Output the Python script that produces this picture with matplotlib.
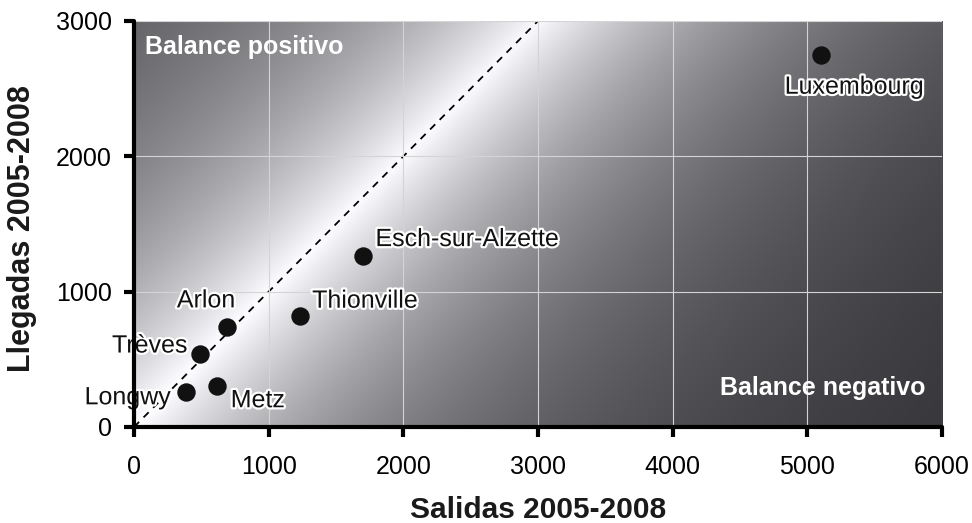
import numpy as np
import matplotlib
matplotlib.use("Agg")
import matplotlib.pyplot as plt
import matplotlib.patheffects as pe

plt.rcParams['font.family'] = ['Liberation Sans', 'DejaVu Sans']

# Data
cities = ["Luxembourg", "Esch-sur-Alzette", "Thionville", "Arlon", "Trèves", "Metz", "Longwy"]
salidas = [5100, 1700, 1230, 690, 490, 615, 385]
llegadas = [2750, 1265, 820, 740, 540, 300, 260]
xticks = [0, 1000, 2000, 3000, 4000, 5000, 6000]
yticks = [0, 1000, 2000, 3000]

# label placement (offset in points, horizontal alignment)
label_style = {
    "Luxembourg": ((24, -28), "center"),
    "Esch-sur-Alzette": ((9, 7), "left"),
    "Thionville": ((9, 6), "left"),
    "Arlon": ((6, 14), "right"),
    "Trèves": ((-9, 1), "right"),
    "Metz": ((10, -15), "left"),
    "Longwy": ((-11, -9), "right"),
}

fig = plt.figure(figsize=(9.72, 5.23), dpi=100)
ax = fig.add_axes([134/972, (523-427)/523, 808/972, 406/523])

# background gradient: white along the y = x diagonal, darker away from it
gx = np.linspace(0, 6000, 600)
gy = np.linspace(0, 3000, 300)
GX, GY = np.meshgrid(gx, gy)
d = np.abs(GX - GY) / np.sqrt(2)
v = 0.22 + 0.78 * np.exp(-d / 1450.0) - 0.04 * (GX / 6000.0)
v = np.clip(v, 0, 1)
rgb = np.dstack([v, v, np.clip(v + 0.015, 0, 1)])
ax.imshow(rgb, extent=[0, 6000, 0, 3000], origin="lower", aspect="auto",
          interpolation="bilinear", zorder=0)

ax.set_xlim(0, 6000)
ax.set_ylim(0, 3000)
ax.set_xticks(xticks)
ax.set_yticks(yticks)
ax.grid(True, color="#d4d4d4", linewidth=0.8, zorder=1)
ax.set_axisbelow(False)

# diagonal
ax.plot([0, 3000], [0, 3000], color="black", linestyle=(0, (4, 3.5)), linewidth=1.3, zorder=2)

ax.scatter(salidas, llegadas, s=150, color="#111111", zorder=4, clip_on=False)

for c, xv, yv in zip(cities, salidas, llegadas):
    off, ha = label_style[c]
    ax.annotate(c, (xv, yv), xytext=off, textcoords="offset points",
                ha=ha, va="baseline", fontsize=18, color="#111111", zorder=5,
                path_effects=[pe.withStroke(linewidth=3.2, foreground="white")])

ax.text(80, 2808, "Balance positivo", fontsize=18, fontweight="bold",
        color="white", ha="left", va="center", zorder=5)
ax.text(5875, 285, "Balance negativo", fontsize=18, fontweight="bold",
        color="white", ha="right", va="center", zorder=5)

for s in ["top", "right"]:
    ax.spines[s].set_visible(False)
for s in ["left", "bottom"]:
    ax.spines[s].set_linewidth(3)
    ax.spines[s].set_capstyle("round")
    ax.spines[s].set_zorder(6)

ax.tick_params(axis="both", direction="out", length=7, width=3, labelsize=18,
               colors="black", pad=9)
ax.tick_params(axis="x", pad=13)

ax.set_xlabel("Salidas 2005-2008", fontsize=21.5, fontweight="bold", color="#1a1a1a")
ax.set_ylabel("Llegadas 2005-2008", fontsize=22, fontweight="bold", color="#1a1a1a")
ax.xaxis.set_label_coords(0.5, -0.17)
ax.yaxis.set_label_coords(-0.12, 0.49)

fig.savefig("out.png", dpi=100)
